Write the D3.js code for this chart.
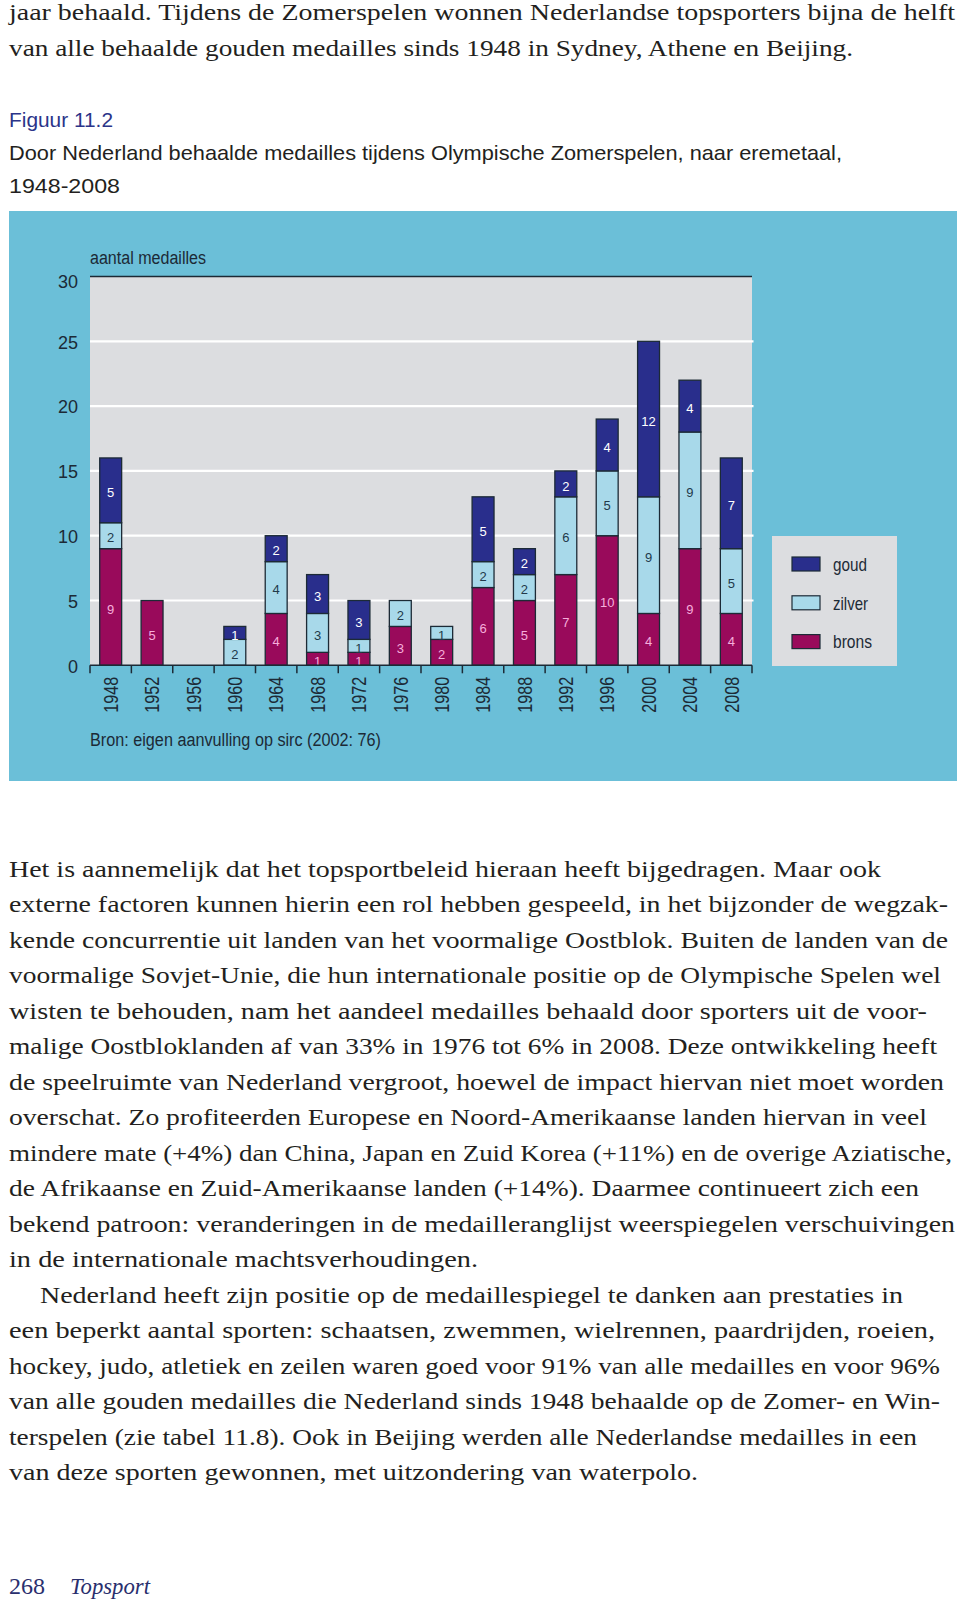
<!DOCTYPE html>
<html>
<head>
<meta charset="utf-8">
<script src="https://cdn.jsdelivr.net/npm/d3@7"></script>
<style>
  html, body { margin: 0; padding: 0; background: #ffffff; }
  svg { display: block; }
</style>
</head>
<body>
<script>
// ---------- DATA ----------
const years  = ["1948","1952","1956","1960","1964","1968","1972","1976","1980","1984","1988","1992","1996","2000","2004","2008"];
const goud   = [5, 0, 0, 1, 2, 3, 3, 0, 0, 5, 2, 2, 4, 12, 4, 7];
const zilver = [2, 0, 0, 2, 4, 3, 1, 2, 1, 2, 2, 6, 5, 9, 9, 5];
const brons  = [9, 5, 0, 0, 4, 1, 1, 3, 2, 6, 5, 7, 10, 4, 9, 4];
const yTicks = [0, 5, 10, 15, 20, 25, 30];
const seriesKeys   = ["brons", "zilver", "goud"];
const legendLabels = ["goud", "zilver", "brons"];

const topLines = [
  "jaar behaald. Tijdens de Zomerspelen wonnen Nederlandse topsporters bijna de helft",
  "van alle behaalde gouden medailles sinds 1948 in Sydney, Athene en Beijing."
];
const bodyLines = [
  "Het is aannemelijk dat het topsportbeleid hieraan heeft bijgedragen. Maar ook",
  "externe factoren kunnen hierin een rol hebben gespeeld, in het bijzonder de wegzak-",
  "kende concurrentie uit landen van het voormalige Oostblok. Buiten de landen van de",
  "voormalige Sovjet-Unie, die hun internationale positie op de Olympische Spelen wel",
  "wisten te behouden, nam het aandeel medailles behaald door sporters uit de voor-",
  "malige Oostbloklanden af van 33% in 1976 tot 6% in 2008. Deze ontwikkeling heeft",
  "de speelruimte van Nederland vergroot, hoewel de impact hiervan niet moet worden",
  "overschat. Zo profiteerden Europese en Noord-Amerikaanse landen hiervan in veel",
  "mindere mate (+4%) dan China, Japan en Zuid Korea (+11%) en de overige Aziatische,",
  "de Afrikaanse en Zuid-Amerikaanse landen (+14%). Daarmee continueert zich een",
  "bekend patroon: veranderingen in de medailleranglijst weerspiegelen verschuivingen",
  "in de internationale machtsverhoudingen.",
  "Nederland heeft zijn positie op de medaillespiegel te danken aan prestaties in",
  "een beperkt aantal sporten: schaatsen, zwemmen, wielrennen, paardrijden, roeien,",
  "hockey, judo, atletiek en zeilen waren goed voor 91% van alle medailles en voor 96%",
  "van alle gouden medailles die Nederland sinds 1948 behaalde op de Zomer- en Win-",
  "terspelen (zie tabel 11.8). Ook in Beijing werden alle Nederlandse medailles in een",
  "van deze sporten gewonnen, met uitzondering van waterpolo."
];
// layout: start / end x of each text line
const topLineEnds  = [955, 853];
const bodyLineStart = [9,9,9,9,9,9,9,9,9,9,9,9,40,9,9,9,9,9];
const bodyLineEnds  = [881,948,948,941,927,937,944,927,952,919,955,478,903,935,940,940,917,698];

// ---------- SETUP ----------
const W = 960, H = 1607;
const svg = d3.select("body").append("svg").attr("width", W).attr("height", H);

const serif = "'Liberation Serif', 'Times New Roman', serif";
const sans  = "'Liberation Sans', Arial, sans-serif";
const dark  = "#1c2a36";
const colors = { goud: "#292e8c", zilver: "#a8d9ea", brons: "#990a5b" };
const labelColors = { goud: "#ffffff", zilver: "#22394a", brons: "#f6aedb" };

// ---------- PAGE TEXT ----------
svg.append("g").selectAll("text").data(topLines).join("text")
  .attr("x", 9).attr("y", (d, i) => 20 + i * 35.5)
  .attr("textLength", (d, i) => topLineEnds[i] - 9)
  .attr("lengthAdjust", "spacingAndGlyphs")
  .style("font-family", serif).style("font-size", "24px").style("fill", "#231f20")
  .text(d => d);

svg.append("text").attr("x", 9).attr("y", 127)
  .style("font-family", sans).style("font-size", "20px").style("fill", "#2b3489")
  .attr("textLength", 104).attr("lengthAdjust", "spacingAndGlyphs")
  .text("Figuur 11.2");
svg.append("text").attr("x", 9).attr("y", 160)
  .style("font-family", sans).style("font-size", "21px").style("fill", "#231f20")
  .attr("textLength", 833).attr("lengthAdjust", "spacingAndGlyphs")
  .text("Door Nederland behaalde medailles tijdens Olympische Zomerspelen, naar eremetaal,");
svg.append("text").attr("x", 9).attr("y", 193)
  .style("font-family", sans).style("font-size", "21px").style("fill", "#231f20")
  .attr("textLength", 111).attr("lengthAdjust", "spacingAndGlyphs")
  .text("1948-2008");

// ---------- CHART PANEL ----------
svg.append("rect").attr("x", 9).attr("y", 211).attr("width", 948).attr("height", 570)
  .attr("fill", "#6bbfd8");

const plot = { left: 90, right: 752, top: 276.5, bottom: 665.3 };

svg.append("rect").attr("x", plot.left).attr("y", plot.top)
  .attr("width", plot.right - plot.left).attr("height", plot.bottom - plot.top)
  .attr("fill", "#dcdde0");

const x = d3.scaleBand().domain(years).range([plot.left, plot.right])
  .paddingInner(0.47).paddingOuter(0.235);
const y = d3.scaleLinear().domain([0, 30]).range([plot.bottom, plot.top]);

// gridlines
svg.append("g").selectAll("line").data(yTicks.filter(v => v > 0 && v < 30)).join("line")
  .attr("x1", plot.left).attr("x2", plot.right + 1.5)
  .attr("y1", d => y(d)).attr("y2", d => y(d))
  .attr("stroke", "#ffffff").attr("stroke-width", 2.2);

// top line
svg.append("line").attr("x1", plot.left).attr("x2", plot.right)
  .attr("y1", y(30)).attr("y2", y(30)).attr("stroke", dark).attr("stroke-width", 1.5);

// y axis labels
const yAxis = svg.append("g").attr("transform", `translate(${plot.left},0)`)
  .call(d3.axisLeft(y).tickValues(yTicks).tickSize(0).tickPadding(12));
yAxis.select(".domain").remove();
yAxis.selectAll("text")
  .attr("dy", d => d === 30 ? "0.62em" : "0.38em")
  .style("font-family", sans).style("font-size", "18px").style("fill", dark);

// stacked bars
const table = years.map((yr, i) => ({ year: yr, goud: goud[i], zilver: zilver[i], brons: brons[i] }));
const stacked = d3.stack().keys(seriesKeys)(table);

const layers = svg.append("g").selectAll("g").data(stacked).join("g")
  .attr("fill", d => colors[d.key]);
layers.selectAll("rect").data(d => d.filter(s => s[1] - s[0] > 0)).join("rect")
  .attr("x", d => x(d.data.year))
  .attr("width", x.bandwidth())
  .attr("y", d => y(d[1]))
  .attr("height", d => y(d[0]) - y(d[1]))
  .attr("stroke", dark).attr("stroke-width", 1.3);

// segment labels
const lab = svg.append("g").selectAll("g").data(stacked).join("g");
lab.selectAll("text").data(d => d.filter(s => s[1] - s[0] > 0).map(s => ({ s, key: d.key }))).join("text")
  .attr("x", d => x(d.s.data.year) + x.bandwidth() / 2)
  .attr("y", d => (y(d.s[0]) + y(d.s[1])) / 2 + 2)
  .attr("dy", "0.36em")
  .attr("text-anchor", "middle")
  .style("font-family", sans).style("font-size", "13px")
  .style("fill", d => labelColors[d.key])
  .text(d => d.s[1] - d.s[0]);

// x axis line and boundary ticks
svg.append("line").attr("x1", plot.left).attr("x2", plot.right)
  .attr("y1", plot.bottom).attr("y2", plot.bottom).attr("stroke", dark).attr("stroke-width", 1.5);
const bounds = d3.range(years.length + 1).map(i => plot.left + i * x.step());
svg.append("g").selectAll("line").data(bounds).join("line")
  .attr("x1", d => d).attr("x2", d => d)
  .attr("y1", plot.bottom).attr("y2", plot.bottom + 8)
  .attr("stroke", dark).attr("stroke-width", 1.5);

// year labels
const xAxis = svg.append("g").attr("transform", `translate(0,${plot.bottom})`)
  .call(d3.axisBottom(x).tickSize(0));
xAxis.select(".domain").remove();
xAxis.selectAll("text")
  .attr("transform", "rotate(-90)")
  .attr("x", -11.5).attr("y", 0).attr("dy", "0.36em")
  .attr("textLength", 36).attr("lengthAdjust", "spacingAndGlyphs")
  .style("text-anchor", "end")
  .style("font-family", sans).style("font-size", "20px").style("fill", dark);

// axis title and source
svg.append("text").attr("x", plot.left).attr("y", 264)
  .attr("textLength", 116).attr("lengthAdjust", "spacingAndGlyphs")
  .style("font-family", sans).style("font-size", "18px").style("fill", dark)
  .text("aantal medailles");
svg.append("text").attr("x", plot.left).attr("y", 746)
  .attr("textLength", 291).attr("lengthAdjust", "spacingAndGlyphs")
  .style("font-family", sans).style("font-size", "18px").style("fill", dark)
  .text("Bron: eigen aanvulling op sirc (2002: 76)");

// legend
const legend = svg.append("g").attr("transform", "translate(772,536)");
legend.append("rect").attr("width", 125).attr("height", 130).attr("fill", "#dcdde0");
const li = legend.selectAll("g").data(legendLabels).join("g")
  .attr("transform", (d, i) => `translate(20,${21 + i * 38.8})`);
li.append("rect").attr("width", 28).attr("height", 14)
  .attr("fill", d => colors[d]).attr("stroke", dark).attr("stroke-width", 1.2);
const legendW = { goud: 34, zilver: 35, brons: 39 };
li.append("text").attr("x", 41).attr("y", 7).attr("dy", "0.36em")
  .attr("textLength", d => legendW[d]).attr("lengthAdjust", "spacingAndGlyphs")
  .style("font-family", sans).style("font-size", "19px").style("fill", dark)
  .text(d => d);

// ---------- BODY TEXT ----------
svg.append("g").selectAll("text").data(bodyLines).join("text")
  .attr("x", (d, i) => bodyLineStart[i])
  .attr("y", (d, i) => 876.5 + i * 35.5)
  .attr("textLength", (d, i) => bodyLineEnds[i] - bodyLineStart[i])
  .attr("lengthAdjust", "spacingAndGlyphs")
  .style("font-family", serif).style("font-size", "24px").style("fill", "#231f20")
  .text(d => d);

// footer
svg.append("text").attr("x", 9).attr("y", 1594)
  .style("font-family", serif).style("font-size", "23px").style("fill", "#2a2f6e")
  .attr("textLength", 36).attr("lengthAdjust", "spacingAndGlyphs")
  .text("268");
svg.append("text").attr("x", 70).attr("y", 1594)
  .style("font-family", serif).style("font-size", "23px").style("font-style", "italic").style("fill", "#2a2f6e")
  .attr("textLength", 80).attr("lengthAdjust", "spacingAndGlyphs")
  .text("Topsport");
</script>
</body>
</html>
